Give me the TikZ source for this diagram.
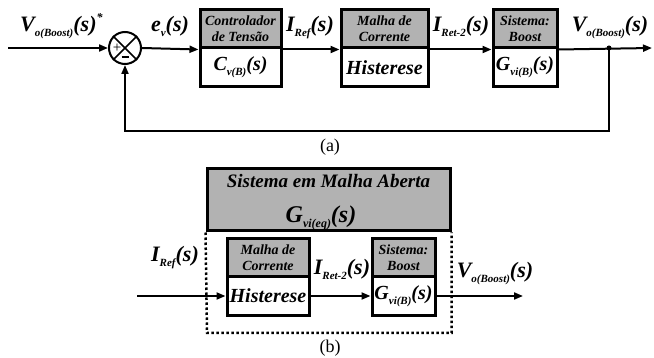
\documentclass[tikz,border=0pt]{standalone}
\usepackage{fontspec}
\setmainfont{Liberation Serif}
\newfontfamily\lbi{Liberation Serif Bold Italic}
\usetikzlibrary{arrows.meta}
\definecolor{blkgray}{gray}{0.7}
\newcommand\sbx[1]{\raisebox{-5pt}{\fontsize{11}{11}\selectfont #1}}
\newcommand\sbl[1]{\raisebox{-5pt}{\fontsize{12}{12}\selectfont #1}}
\begin{document}
\begin{tikzpicture}[x=1pt,y=-1pt,
  arr/.style={line width=2pt,-{Triangle[length=9pt,width=7pt]}},
  blk/.style={draw,line width=3pt,inner sep=0pt,minimum width=#1},
  topb/.style={blk=#1,fill=blkgray,minimum height=38pt,align=center,font=\lbi\fontsize{14}{16}\selectfont},
  botb/.style={blk=#1,fill=white,minimum height=39pt,font=\lbi\fontsize{20}{22}\selectfont},
  lab/.style={font=\lbi\fontsize{22}{24}\selectfont,inner sep=0pt,anchor=base},
  sgn/.style={font=\fontsize{15}{15}\selectfont,inner sep=0pt}]
\useasboundingbox (0,0) rectangle (654,358);
% ---------- (a) ----------
\coordinate (in) at (8,48);
\node[draw,circle,line width=2pt,minimum size=32pt,inner sep=0pt] (sum) at (125,48) {};
\draw[line width=1.5pt] (sum.north west) -- (sum.south east) (sum.north east) -- (sum.south west);
\node[sgn] (plus) at ([xshift=-8pt]sum.center) {+};
\draw[line width=1.6pt] ([xshift=-3.5pt,yshift=-9pt]sum.center) -- ([xshift=3.5pt,yshift=-9pt]sum.center);

\node[topb=81] (c1t) at (240.5,29) {Controlador\\de Tensão};
\node[botb=81] (c1b) at (240.5,67.5) {C\sbx{v(B)}(s)};
\node[topb=87] (c2t) at (384.5,29) {Malha de\\Corrente};
\node[botb=87] (c2b) at (384.5,67.5) {Histerese};
\node[topb=64] (c3t) at (525,29) {Sistema:\\Boost};
\node[botb=64] (c3b) at (525,67.5) {G\sbx{vi(B)}(s)};

\coordinate (out) at (652,48);
\coordinate (j) at (609,48);
\coordinate (fb) at (609,131);

\draw[arr] (in) -- (sum.west);
\draw[arr] (sum.east) -- (c1t.south west);
\draw[arr] (c1t.south east) -- (c2t.south west);
\draw[arr] (c2t.south east) -- (c3t.south west);
\draw[arr] (c3t.south east) -- (out);
\fill (j) circle (2.5pt);
\draw[arr] (j) -- (fb) -| (sum.south);

\node[lab,anchor=base west] (lv) at (20,32) {V\sbx{o(Boost)}(s)\raisebox{10pt}{\fontsize{12}{12}\selectfont *}};
\node[lab] (le) at (170,32) {e\sbx{v}(s)};
\node[lab] (lir) at (310,32) {I\sbx{Ref}(s)};
\node[lab] (lir2) at (461,32) {I\sbx{Ret-2}(s)};
\node[lab] (lvo) at (610,32) {V\sbx{o(Boost)}(s)};
\node[font=\fontsize{18}{18}\selectfont,inner sep=0pt] (ca) at (330,147) {(a)};

% ---------- (b) ----------
\node[draw,line width=3pt,fill=blkgray,minimum width=243pt,minimum height=62pt,inner sep=0pt] (ol) at (328.5,200) {};
\node[lab,font=\lbi\fontsize{19}{20}\selectfont] (olt) at (328.5,188) {Sistema em Malha Aberta};
\node[lab,font=\lbi\fontsize{24}{26}\selectfont] (olg) at (321,223) {G\sbl{vi(eq)}(s)};
\coordinate (dl) at (207,333);
\draw[line width=2.5pt,dash pattern=on 2.5pt off 2.5pt] (ol.south west) -- (dl) -| (ol.south east);

\node[topb=82] (h1t) at (268,257.5) {Malha de\\Corrente};
\node[botb=82] (h1b) at (268,296) {Histerese};
\node[topb=63] (h2t) at (403.5,257.5) {Sistema:\\Boost};
\node[botb=63] (h2b) at (403.5,296) {G\sbx{vi(B)}(s)};

\coordinate (bin) at (137,296);
\coordinate (bout) at (523,296);
\draw[arr] (bin) -- (h1b.west);
\draw[arr] (h1b.east) -- (h2b.west);
\draw[arr] (h2b.east) -- (bout);

\node[lab] (blir) at (175,262) {I\sbx{Ref}(s)};
\node[lab] (blir2) at (342,275) {I\sbx{Ret-2}(s)};
\node[lab] (blvo) at (495,278) {V\sbx{o(Boost)}(s)};
\node[font=\fontsize{18}{18}\selectfont,inner sep=0pt] (cb) at (330,348) {(b)};
\end{tikzpicture}
\end{document}
